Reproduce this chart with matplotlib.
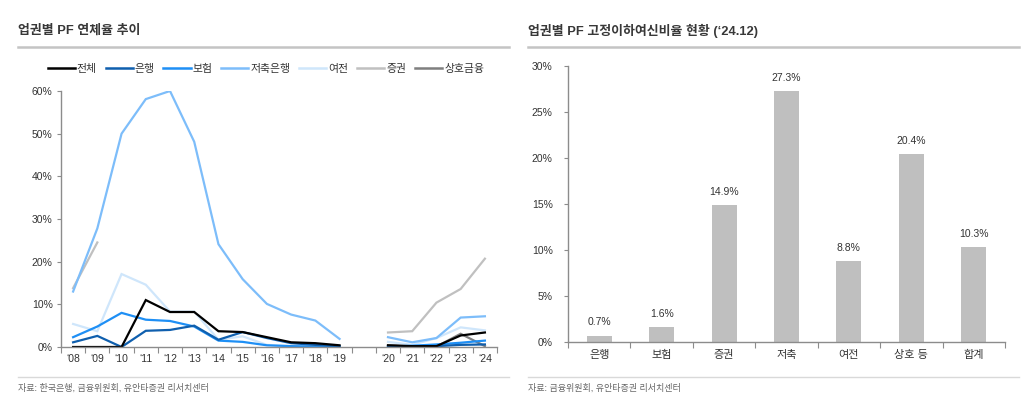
import numpy as np
import matplotlib
matplotlib.use('Agg')
import matplotlib.pyplot as plt
from matplotlib.lines import Line2D

plt.rcParams['font.family'] = ['Liberation Sans', 'Noto Sans CJK KR']
plt.rcParams['axes.unicode_minus'] = False

nan = np.nan

# left chart: PF delinquency rate by sector (%)
years = ['‘08', '‘09', '‘10', '‘11', '‘12', '‘13', '‘14', '‘15', '‘16', '‘17', '‘18', '‘19', '',
         '‘20', '‘21', '‘22', '‘23', '‘24']
total = [0.0, 0.0, 0.0, 11.0, 8.2, 8.2, 3.7, 3.5, 2.3, 1.1, 0.9, 0.4, nan, 0.4, 0.2, 0.2, 2.7, 3.4]
bank = [1.1, 2.6, 0.0, 3.8, 4.0, 5.0, 1.7, 3.5, 2.1, 0.9, 0.5, 0.2, nan, 0.1, 0.1, 0.2, 0.5, 0.6]
insurance = [2.3, 4.8, 8.0, 6.4, 6.1, 4.8, 1.5, 1.2, 0.4, 0.2, 0.1, 0.1, nan, 0.1, 0.3, 0.6, 1.0, 1.5]
savings = [13.0, 27.8, 50.0, 58.1, 60.0, 48.1, 24.1, 15.9, 10.1, 7.6, 6.2, 1.9, nan, 2.3, 1.1, 2.1, 6.9, 7.2]
card = [5.4, 3.7, 17.1, 14.6, 8.3, 8.3, 1.7, 2.5, 0.5, 0.2, 0.1, 0.0, nan, 1.2, 0.5, 2.1, 4.6, 3.9]
securities = [13.8, 24.5, nan, nan, nan, nan, nan, nan, nan, nan, nan, nan, nan, 3.4, 3.7, 10.4, 13.6, 20.7]
mutual = [nan] * 13 + [0.4, 0.2, 0.1, 3.1, 0.2]

series_names = ['전체', '은행', '보험', '저축은행', '여전', '증권', '상호금융']
series_vals = [total, bank, insurance, savings, card, securities, mutual]
series_colors = ['#000000', '#0f5fae', '#1e8ff5', '#7dbdfa', '#cfe6fb', '#c0c0c0', '#7f7f7f']

# right chart: substandard-or-below ratio ('24.12)
bar_cats = ['은행', '보험', '증권', '저축', '여전', '상호 등', '합계']
bar_vals = [0.7, 1.6, 14.9, 27.3, 8.8, 20.4, 10.3]

W, H = 1033, 396
fig = plt.figure(figsize=(W / 100, H / 100), dpi=100)

txt = '#333333'
spine = '#8c8c8c'

# ---- left: line chart
ax1 = fig.add_axes([61 / W, 1 - 347 / H, 436 / W, 256 / H])
x = np.arange(len(years))
for name, vals, col in reversed(list(zip(series_names, series_vals, series_colors))):
    ax1.plot(x, vals, color=col, lw=1.6, solid_joinstyle='miter')
ax1.set_xlim(-0.5, len(years) - 0.5)
ax1.set_ylim(0, 60)
ax1.set_yticks(np.arange(0, 61, 10))
ax1.set_yticklabels([f'{v}%' for v in range(0, 61, 10)])
ax1.set_xticks(np.arange(-0.5, len(years), 1.0))
ax1.set_xticklabels([])
ax1.set_xticks(x, minor=True)
ax1.set_xticklabels(years, minor=True)
ax1.tick_params(axis='x', which='major', length=4, color=spine, direction='out')
ax1.tick_params(axis='x', which='minor', length=0, pad=5, labelsize=7.5, labelcolor=txt)
ax1.tick_params(axis='y', length=3, color=spine, labelsize=7.5, labelcolor=txt, pad=3)
for s in ['top', 'right']:
    ax1.spines[s].set_visible(False)
for s in ['left', 'bottom']:
    ax1.spines[s].set_color(spine)
    ax1.spines[s].set_linewidth(1.0)

handles = [Line2D([0], [0], color=c, lw=1.8) for c in series_colors]
fig.legend(handles, series_names, loc='center', bbox_to_anchor=(266 / W, 1 - 69 / H),
           ncol=7, frameon=False, fontsize=7.8, handlelength=2.5, handletextpad=0.2,
           columnspacing=0.8, labelcolor=txt)

# ---- right: bar chart
ax2 = fig.add_axes([568 / W, 1 - 342 / H, 437 / W, 276 / H])
xb = np.arange(len(bar_cats))
bars = ax2.bar(xb, bar_vals, width=0.4, color='#bfbfbf')
for b, v in zip(bars, bar_vals):
    ax2.annotate(f'{v}%', (b.get_x() + b.get_width() / 2, v), xytext=(0, 6),
                 textcoords='offset points', ha='center', va='bottom', fontsize=7.5, color=txt)
ax2.set_xlim(-0.5, len(bar_cats) - 0.5)
ax2.set_ylim(0, 30)
ax2.set_yticks(np.arange(0, 31, 5))
ax2.set_yticklabels([f'{v}%' for v in range(0, 31, 5)])
ax2.set_xticks(np.arange(-0.5, len(bar_cats), 1.0))
ax2.set_xticklabels([])
ax2.set_xticks(xb, minor=True)
ax2.set_xticklabels(bar_cats, minor=True)
ax2.tick_params(axis='x', which='major', length=4, color=spine, direction='out')
ax2.tick_params(axis='x', which='minor', length=0, pad=6, labelsize=8, labelcolor=txt)
ax2.tick_params(axis='y', length=3, color=spine, labelsize=7.5, labelcolor=txt, pad=8)
for s in ['top', 'right']:
    ax2.spines[s].set_visible(False)
for s in ['left', 'bottom']:
    ax2.spines[s].set_color(spine)
    ax2.spines[s].set_linewidth(1.0)

# ---- titles, rules, sources
title_kw = dict(fontsize=9.3, fontweight='bold', color='#383838', va='center', ha='left')
fig.text(18 / W, 1 - 31 / H, '업권별 PF 연체율 추이', **title_kw)
fig.text(528 / W, 1 - 31 / H, '업권별 PF 고정이하여신비율 현황 (‘24.12)', **title_kw)
for x0, x1 in [(18, 509), (528, 1019)]:
    fig.add_artist(Line2D([x0 / W, x1 / W], [1 - 47 / H] * 2, color='#c4c4c4', lw=1.8))
    fig.add_artist(Line2D([x0 / W, x1 / W], [1 - 377 / H] * 2, color='#d9d9d9', lw=1.0))
src_kw = dict(fontsize=6.5, color='#666666', va='center', ha='left')
fig.text(18 / W, 1 - 388 / H, '자료: 한국은행, 금융위원회, 유안타증권 리서치센터', **src_kw)
fig.text(528 / W, 1 - 388 / H, '자료: 금융위원회, 유안타증권 리서치센터', **src_kw)

fig.savefig('out.png', dpi=100, facecolor='white')
